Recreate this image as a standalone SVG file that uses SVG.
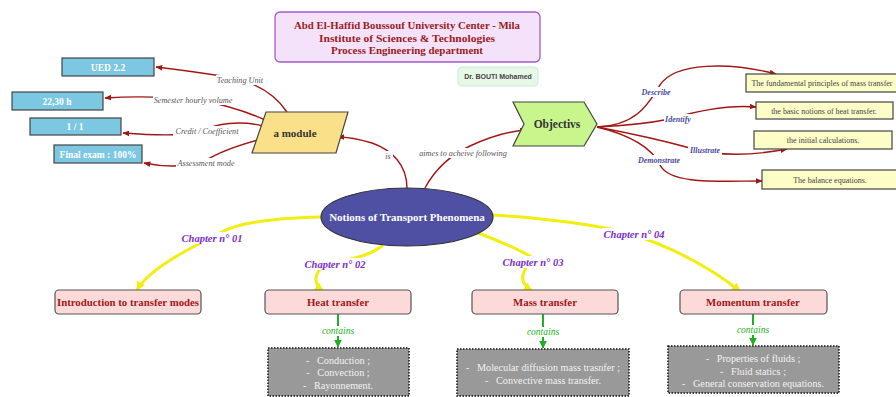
<svg xmlns="http://www.w3.org/2000/svg" width="896" height="397" viewBox="0 0 896 397">
<style>
.t{font-family:"Liberation Serif",serif}
.title{font-size:11px;font-weight:bold;fill:#9a1c1c;text-anchor:middle}
.blue{fill:#7cc8e2;stroke:#444;stroke-width:1.2}
.bt{font-size:9.5px;font-weight:bold;fill:#fff;text-anchor:middle}
.red{fill:none;stroke:#a31515;stroke-width:1.4}
.bg{fill:#fff}
.lbl{font-size:8.2px;font-style:italic;fill:#555;text-anchor:middle}
.olbl{font-size:8px;font-style:italic;font-weight:bold;fill:#4a4aa0;text-anchor:middle}
.ybox{fill:#fdfdc8;stroke:#444;stroke-width:1.2}
.yt{font-size:8px;fill:#444;text-anchor:middle}
.yel{fill:none;stroke:#f2ee10;stroke-width:3}
.clbl{font-size:10.5px;font-style:italic;font-weight:bold;fill:#7b2ec8;text-anchor:middle}
.pink{fill:#fddada;stroke:#555;stroke-width:1.2}
.pt{font-size:10.8px;font-weight:bold;fill:#a01818;text-anchor:middle}
.grn{fill:none;stroke:#22b022;stroke-width:2}
.glbl{font-size:9.5px;font-style:italic;fill:#22b022;text-anchor:middle}
.gray{fill:#999;stroke:#111;stroke-width:1.5;stroke-dasharray:1.5 1.5}
.gt{font-size:10.2px;fill:#f2f2f2;text-anchor:middle}
</style>
<defs>
<marker id="ar" viewBox="0 0 10 10" refX="9" refY="5" markerWidth="5" markerHeight="5" orient="auto"><path d="M0,1L10,5L0,9z" fill="#a31515"/></marker>
<marker id="ag" viewBox="0 0 10 10" refX="9" refY="5" markerWidth="4" markerHeight="4" orient="auto"><path d="M0,0L10,5L0,10z" fill="#22b022"/></marker>
<marker id="ay" viewBox="0 0 10 10" refX="9" refY="5" markerWidth="3" markerHeight="3" orient="auto"><path d="M0,0L10,5L0,10z" fill="#f2ee10"/></marker>
</defs>

<g id="connectors">
<path class="red" d="M287,112 Q268,84 228,77 Q190,71 156,67" marker-end="url(#ar)"/>
<path class="red" d="M267,121 Q240,108 200,100 Q150,95 105,98" marker-end="url(#ar)"/>
<path class="red" d="M263,126 C240,120 215,124 205,130 C190,137 150,135 123,133" marker-end="url(#ar)"/>
<path class="red" d="M258,140 Q222,150 205,161 Q178,170 144,163" marker-end="url(#ar)"/>
<path class="red" d="M407,188 C407,165 392,150 372,143 Q352,137 338,137" marker-end="url(#ar)"/>
<path class="red" d="M425,188 Q440,160 470,146 Q500,132 526,130" marker-end="url(#ar)"/>
<path class="red" d="M597,127 C640,125 650,100 660,85 C675,62 730,62 776,74" marker-end="url(#ar)"/>
<path class="red" d="M597,127 Q640,125 670,119 Q720,104 756,107" marker-end="url(#ar)"/>
<path class="red" d="M597,127 Q650,137 690,148 Q730,160 787,149" marker-end="url(#ar)"/>
<path class="red" d="M597,127 C630,135 652,148 660,165 C670,185 720,181 762,181" marker-end="url(#ar)"/>

<path class="yel" d="M321,217 C280,218 240,222 222,232 C190,248 150,268 137,290" marker-end="url(#ay)"/>
<path class="yel" d="M383,245 Q370,256 345,260 Q322,264 318,272 Q312,283 323,291" marker-end="url(#ay)"/>
<path class="yel" d="M478,233 Q510,245 530,256 Q528,264 525,270 Q518,282 532,291" marker-end="url(#ay)"/>
<path class="yel" d="M492,215 Q570,220 625,232 Q690,252 740,291" marker-end="url(#ay)"/>

<path class="grn" d="M338,314 V347" marker-end="url(#ag)"/>
<path class="grn" d="M543,314 V348" marker-end="url(#ag)"/>
<path class="grn" d="M753,314 V345" marker-end="url(#ag)"/>

<rect class="bg" x="216" y="75" width="48" height="10"/>
<rect class="bg" x="153" y="95" width="80" height="10"/>
<rect class="bg" x="173" y="126" width="68" height="10"/>
<rect class="bg" x="176" y="158" width="60" height="10"/>
<rect class="bg" x="383" y="151" width="10" height="10"/>
<rect class="bg" x="418" y="148" width="90" height="10"/>
<rect class="bg" x="640" y="87" width="32" height="10"/>
<rect class="bg" x="664" y="114" width="28" height="10"/>
<rect class="bg" x="688" y="145" width="34" height="10"/>
<rect class="bg" x="636" y="155" width="46" height="10"/>
<rect class="bg" x="180" y="232" width="64" height="12"/>
<rect class="bg" x="303" y="258" width="64" height="12"/>
<rect class="bg" x="501" y="256" width="64" height="12"/>
<rect class="bg" x="602" y="228" width="64" height="12"/>
<rect class="bg" x="321" y="326" width="34" height="10"/>
<rect class="bg" x="526" y="327" width="34" height="10"/>
<rect class="bg" x="736" y="325" width="34" height="10"/>

<text class="t lbl" x="240" y="83">Teaching Unit</text>
<text class="t lbl" x="193" y="103">Semester hourly volume</text>
<text class="t lbl" x="207" y="134">Credit / Coefficient</text>
<text class="t lbl" x="206" y="166">Assessment mode</text>
<text class="t lbl" x="388" y="159">is</text>
<text class="t lbl" x="463" y="156">aimes to acheive following</text>
<text class="olbl t" x="656" y="95">Describe</text>
<text class="olbl t" x="678" y="122">Identify</text>
<text class="olbl t" x="705" y="153">Illustrate</text>
<text class="olbl t" x="659" y="163">Demonstrate</text>
<text class="t clbl" x="212" y="242">Chapter n° 01</text>
<text class="t clbl" x="335" y="268">Chapter n° 02</text>
<text class="t clbl" x="533" y="266">Chapter n° 03</text>
<text class="t clbl" x="634" y="238">Chapter n° 04</text>
<text class="t glbl" x="338" y="334">contains</text>
<text class="t glbl" x="543" y="335">contains</text>
<text class="t glbl" x="753" y="333">contains</text>
</g>

<g id="header">
<rect x="275" y="12" width="265" height="50" rx="5" fill="#f4e2fb" stroke="#a55bc8" stroke-width="1.3"/>
<text class="t title" x="407" y="29" textLength="226" lengthAdjust="spacingAndGlyphs">Abd El-Haffid Boussouf University Center - Mila</text>
<text class="t title" x="407" y="41.5" textLength="176" lengthAdjust="spacingAndGlyphs">Institute of Sciences &amp; Technologies</text>
<text class="t title" x="407" y="54" textLength="152" lengthAdjust="spacingAndGlyphs">Process Engineering department</text>
</g>
<g id="author">
<rect x="458" y="67" width="80" height="19" rx="4" fill="#e8f8e6" stroke="#c4ece0" stroke-width="1"/>
<text x="498" y="79" font-family="Liberation Sans,sans-serif" font-size="7px" font-weight="bold" fill="#444" text-anchor="middle">Dr. BOUTI Mohamed</text>
</g>

<g id="ued"><rect class="blue" x="62" y="58" width="92" height="18"/><text class="t bt" x="108" y="70.5">UED 2.2</text></g>
<g id="hours"><rect class="blue" x="12" y="92" width="91" height="18"/><text class="t bt" x="57" y="104.5">22,30 h</text></g>
<g id="credit"><rect class="blue" x="30" y="118" width="91" height="17"/><text class="t bt" x="75" y="130">1 / 1</text></g>
<g id="exam"><rect class="blue" x="54" y="145" width="88" height="18"/><text class="t bt" x="98" y="157.5">Final exam : 100%</text></g>

<g id="module">
<polygon points="266,112 348,112 336,153 252,153" fill="#fbe08a" stroke="#444" stroke-width="1.2"/>
<text class="t" x="295" y="137" font-size="11px" font-weight="bold" fill="#333" text-anchor="middle">a module</text>
</g>

<g id="objectivs">
<polygon points="513,102 584,102 597,124 584,146 513,146 524,124" fill="#c8f58c" stroke="#444" stroke-width="1.2"/>
<text class="t" x="557" y="128" font-size="11.5px" font-weight="bold" fill="#333" text-anchor="middle">Objectivs</text>
</g>

<g id="obj1"><rect class="ybox" x="746" y="74" width="152" height="18"/><text class="t yt" x="822" y="86">The fundamental principles of mass transfer</text></g>
<g id="obj2"><rect class="ybox" x="756" y="102" width="137" height="17"/><text class="t yt" x="824" y="113.5">the basic notions of heat transfer.</text></g>
<g id="obj3"><rect class="ybox" x="754" y="131" width="138" height="18"/><text class="t yt" x="823" y="143">the initial calculations.</text></g>
<g id="obj4"><rect class="ybox" x="762" y="170" width="136" height="19"/><text class="t yt" x="830" y="182.5">The balance equations.</text></g>

<g id="center">
<ellipse cx="407" cy="217" rx="86" ry="29" fill="#4f4fa3" stroke="#333" stroke-width="1.2"/>
<text class="t" x="407" y="221" font-size="11px" font-weight="bold" fill="#fff" text-anchor="middle">Notions of Transport Phenomena</text>
</g>

<g id="intro"><rect class="pink" x="55" y="290" width="146" height="24" rx="4"/><text class="t pt" x="128" y="306">Introduction to transfer modes</text></g>
<g id="heat"><rect class="pink" x="265" y="290" width="146" height="24" rx="4"/><text class="t pt" x="338" y="306">Heat transfer</text></g>
<g id="mass"><rect class="pink" x="472" y="290" width="146" height="24" rx="4"/><text class="t pt" x="545" y="306">Mass transfer</text></g>
<g id="momentum"><rect class="pink" x="680" y="290" width="147" height="24" rx="4"/><text class="t pt" x="753" y="306">Momentum transfer</text></g>

<g id="heatlist"><rect class="gray" x="268" y="348" width="141" height="48"/>
<text class="t gt" x="338" y="363.5" xml:space="preserve">-   Conduction ;</text>
<text class="t gt" x="338" y="375.5" xml:space="preserve">-   Convection ;</text>
<text class="t gt" x="338" y="388.5" xml:space="preserve">-   Rayonnement.</text></g>
<g id="masslist"><rect class="gray" x="457" y="349" width="172" height="47"/>
<text class="t gt" x="543" y="370.5" xml:space="preserve">-   Molecular diffusion mass trasnfer ;</text>
<text class="t gt" x="543" y="383.5" xml:space="preserve">-   Convective mass transfer.</text></g>
<g id="momentumlist"><rect class="gray" x="668" y="346" width="171" height="47"/>
<text class="t gt" x="753" y="361.5" xml:space="preserve">-   Properties of fluids ;</text>
<text class="t gt" x="753" y="374.5" xml:space="preserve">-   Fluid statics ;</text>
<text class="t gt" x="753" y="386.5" xml:space="preserve">-   General conservation equations.</text></g>
</svg>
